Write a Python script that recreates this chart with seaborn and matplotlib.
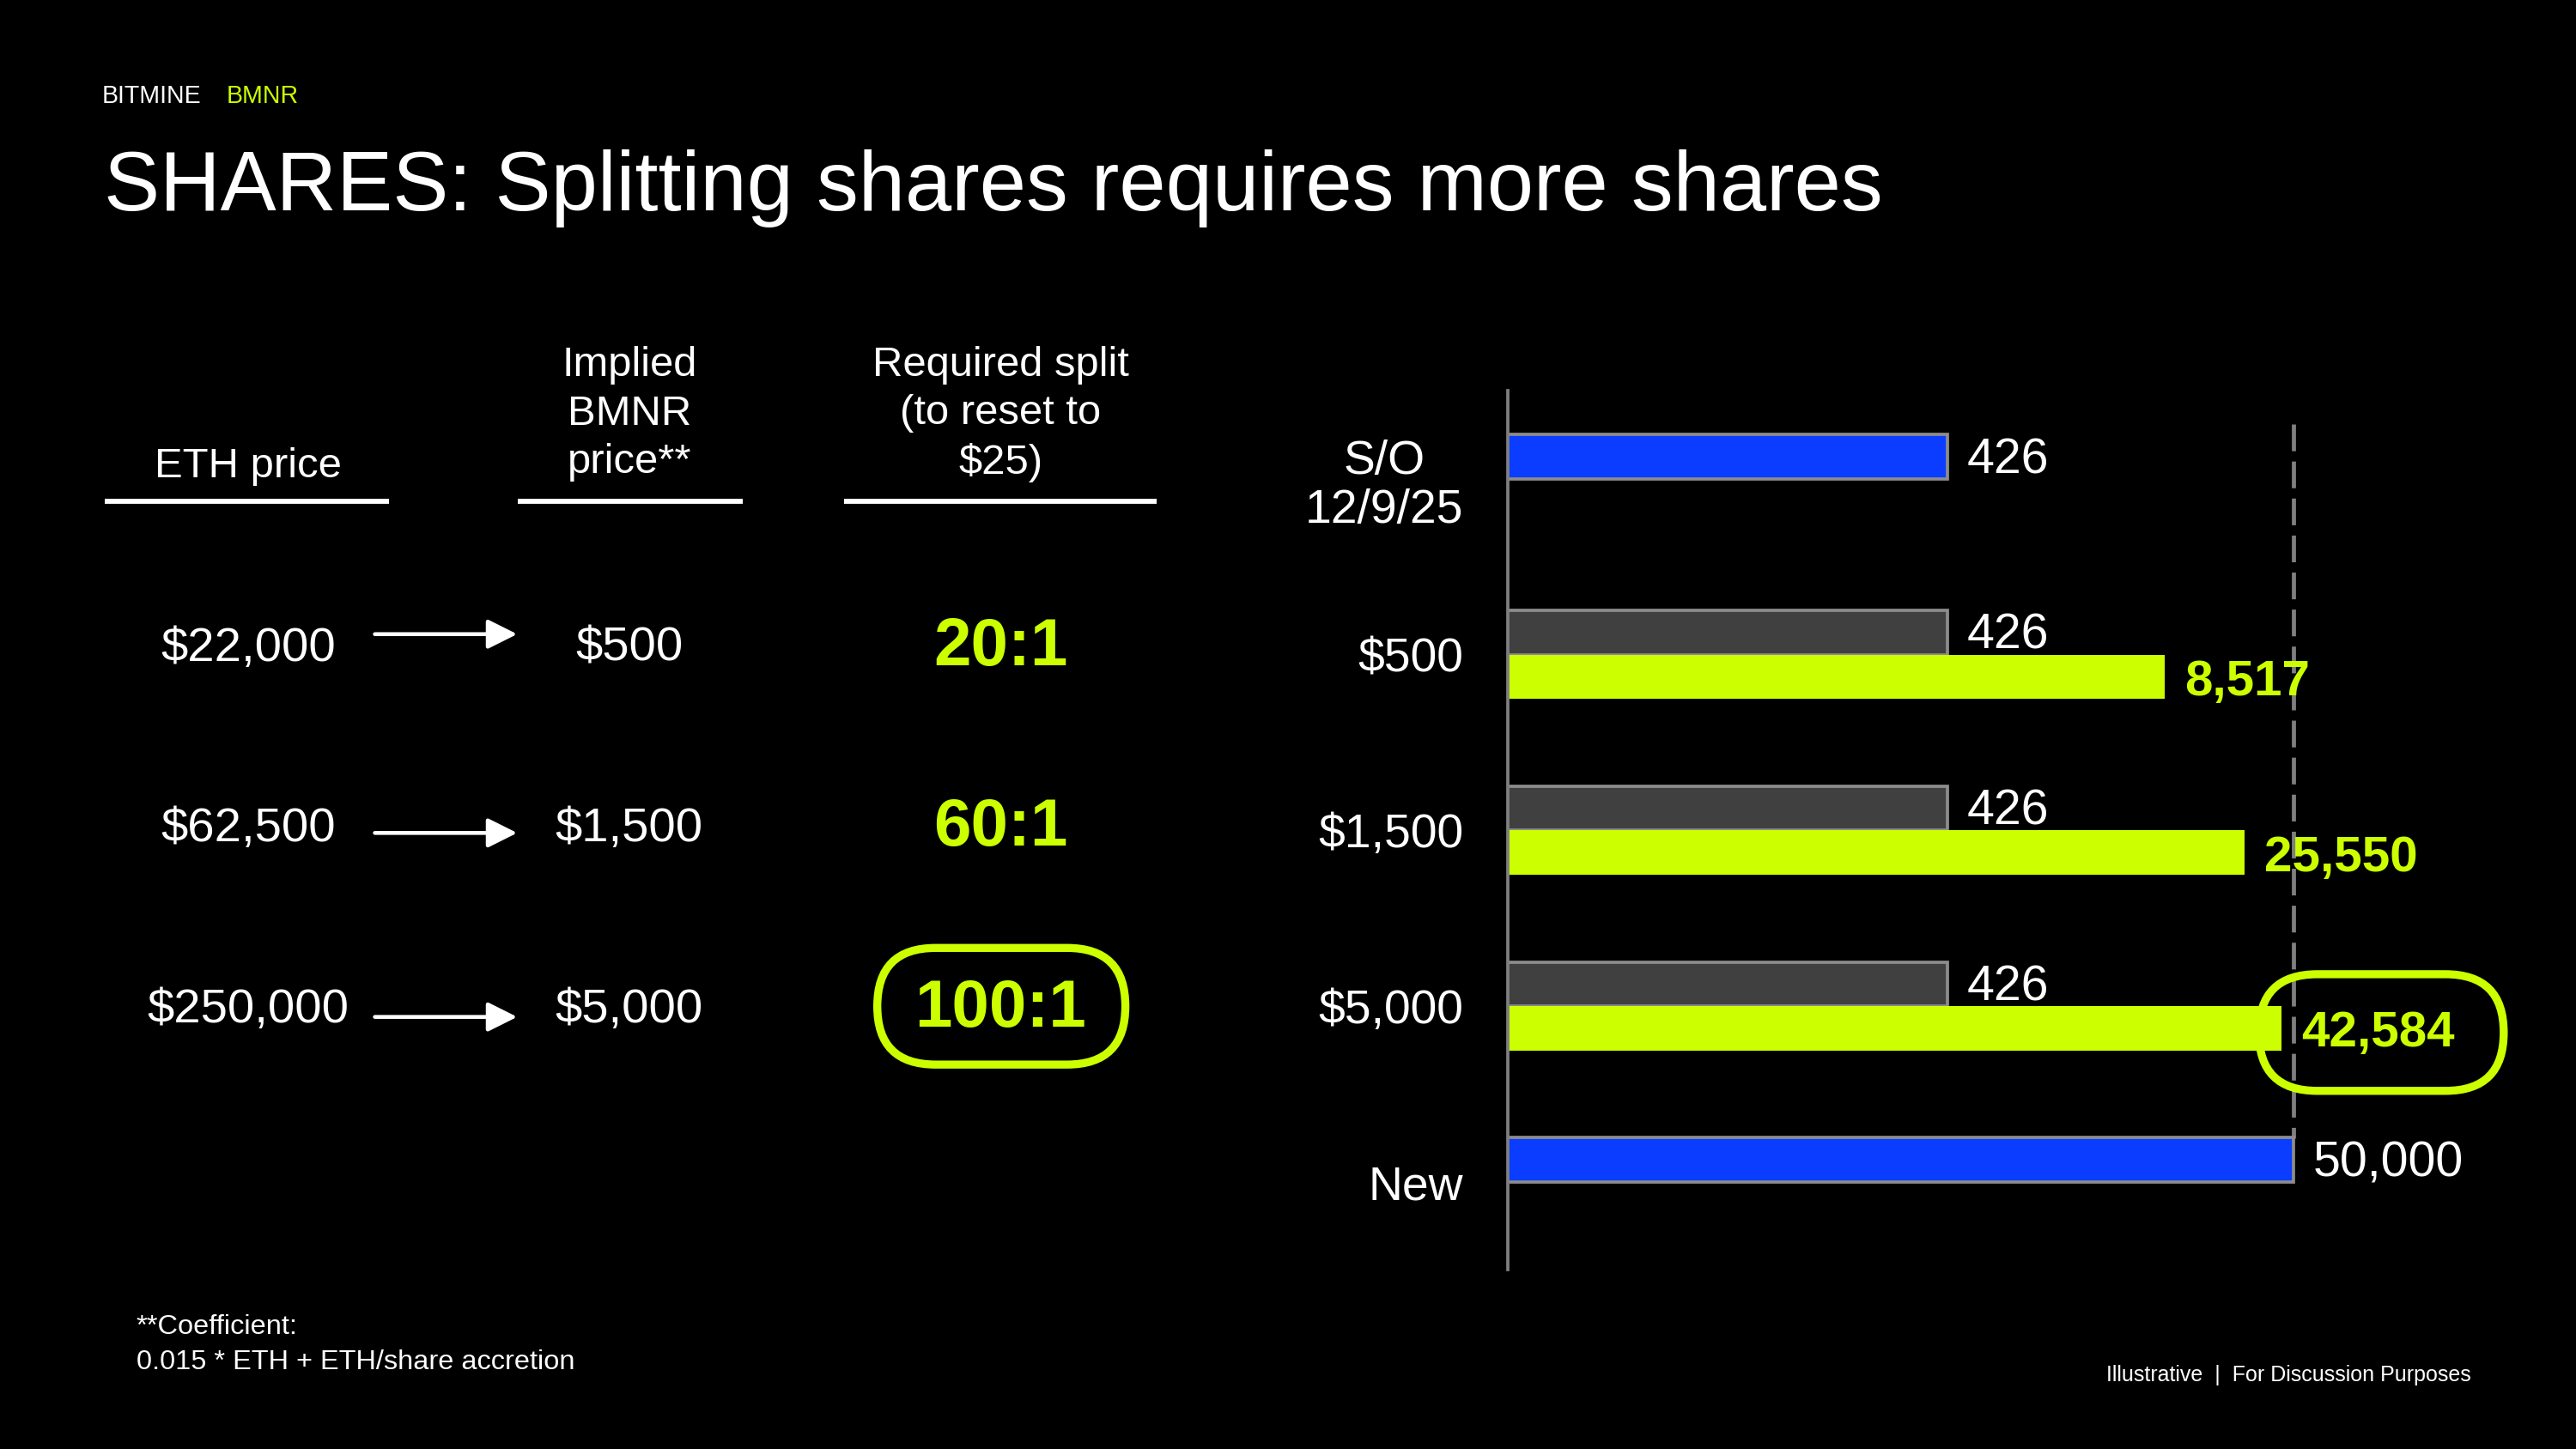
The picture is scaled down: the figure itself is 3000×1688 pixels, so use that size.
import numpy as np
import pandas as pd
import matplotlib.pyplot as plt
import seaborn as sns
from matplotlib.patches import FancyBboxPatch, FancyArrowPatch

# data
eth_prices = ['$22,000', '$62,500', '$250,000']
implied_prices = ['$500', '$1,500', '$5,000']
required_splits = ['20:1', '60:1', '100:1']

categories = ['S/O\n12/9/25', '$500', '$1,500', '$5,000', 'New']
current_shares = [426, 426, 426, 426, 50000]
split_shares = [np.nan, 8517, 25550, 42584, np.nan]
target_shares = 50000

BLUE = '#0A3DFF'
LIME = '#CCFF00'
DARK = '#404040'
EDGE = '#8c8c8c'
WHITE = '#ffffff'

sns.set_theme(style='dark', rc={'figure.facecolor': 'black', 'axes.facecolor': 'black',
                                'savefig.facecolor': 'black', 'text.color': 'white'})
plt.rcParams['font.family'] = ['Liberation Sans', 'DejaVu Sans']

rows = []
for cat, cur, spl in zip(categories, current_shares, split_shares):
    rows.append({'cat': cat, 'kind': 'current', 'shares': cur})
    if not np.isnan(spl):
        rows.append({'cat': cat, 'kind': 'split', 'shares': spl})
df = pd.DataFrame(rows)

fig = plt.figure(figsize=(20, 1688 / 150), dpi=150)

W, H = 1568, 882
# bar chart axes
ax = fig.add_axes([918 / W, 1 - 773 / H, (1528.2 - 918) / W, 535 / H])
sns.barplot(data=df, y='cat', x='shares', hue='kind', order=categories,
            hue_order=['current', 'split'], dodge=True, width=0.505,
            orient='h', ax=ax, legend=False, saturation=1)
ax.set_xscale('log')
ax.set_xlim(1, 1e6)
ax.set_ylim(4.5, -0.5)
ax.set_facecolor('black')
ax.grid(False)
ax.set_xlabel('')
ax.set_ylabel('')
ax.set_xticks([])
for s in ['top', 'right', 'bottom']:
    ax.spines[s].set_visible(False)
ax.spines['left'].set_color('#7f7f7f')
ax.spines['left'].set_linewidth(1.8)
ax.tick_params(axis='y', length=0, pad=25, labelsize=26.5, labelcolor='white')
for lab in ax.get_yticklabels():
    lab.set_multialignment('center')
    lab.set_linespacing(1.12)

for kind, cont in zip(['current', 'split'], ax.containers):
    for bar in cont:
        w = bar.get_width()
        if not np.isfinite(w) or w <= 0:
            continue
        yc = bar.get_y() + bar.get_height() / 2
        idx = int(round(yc))
        if kind == 'current':
            fc = BLUE if idx in (0, len(categories) - 1) else DARK
            bar.set_facecolor(fc)
            bar.set_edgecolor(EDGE)
            bar.set_linewidth(1.8)
            ax.annotate(f'{w:,.0f}', xy=(w, yc), xytext=(11, -2), textcoords='offset points',
                        va='center', ha='left', fontsize=27.5, color=WHITE)
        else:
            bar.set_facecolor(LIME)
            bar.set_edgecolor('none')
            ax.annotate(f'{w:,.0f}', xy=(w, yc), xytext=(11, -3), textcoords='offset points',
                        va='center', ha='left', fontsize=28, color=LIME, fontweight='bold')

ax.vlines(target_shares, -0.31, 3.75, colors='#7f7f7f', linewidth=2.3,
          linestyles=(0, (6.5, 2.5)), zorder=0.5)

# overlay in reference pixel coordinates
ov = fig.add_axes([0, 0, 1, 1], zorder=5)
ov.set_xlim(0, W)
ov.set_ylim(H, 0)
ov.axis('off')
ov.patch.set_alpha(0)

ov.text(62, 62.5, 'BITMINE', fontsize=13.7, color=WHITE, va='baseline', ha='left')
ov.text(138, 62.5, 'BMNR', fontsize=13.7, color=LIME, va='baseline', ha='left')
ov.text(63, 128, 'SHARES: Splitting shares requires more shares', fontsize=46.8,
        color=WHITE, va='baseline', ha='left')

# table headers
ov.text(151, 284, 'ETH price', fontsize=23.5, ha='center', va='center')
ov.text(383, 252, 'Implied\nBMNR\nprice**', fontsize=23.5, ha='center', va='center', linespacing=1.33)
ov.text(609, 252, 'Required split\n(to reset to\n$25)', fontsize=23.5, ha='center', va='center', linespacing=1.33)
for x0, x1 in [(64, 237), (315, 452), (514, 704)]:
    ov.plot([x0, x1], [305, 305], color=WHITE, lw=2.8, solid_capstyle='butt')

row_y = [395, 505, 615]
arrow_y = [386, 507, 619]
for e, p, s, y, ay in zip(eth_prices, implied_prices, required_splits, row_y, arrow_y):
    ov.text(151, y, e, fontsize=27, ha='center', va='center')
    ov.text(383, y, p, fontsize=27, ha='center', va='center')
    ov.text(609, y - 1, s, fontsize=37.5, ha='center', va='center', color=LIME, fontweight='bold')
    ov.add_patch(FancyArrowPatch((226, ay), (317, ay), arrowstyle='-|>,head_length=0.7,head_width=0.35',
                                 mutation_scale=20, color=WHITE, lw=2.2))

# highlight pills
for x0, y0, w, h in [(534, 577, 151, 71), (1375, 593, 149, 71)]:
    ov.add_patch(FancyBboxPatch((x0, y0), w, h, boxstyle=f'round,pad=0,rounding_size={h / 2}',
                                fill=False, edgecolor=LIME, lw=4.5))

ov.text(83, 808, '**Coefficient:', fontsize=15.6, ha='left', va='center')
ov.text(83, 829, '0.015 * ETH + ETH/share accretion', fontsize=15.6, ha='left', va='center')
ov.text(1504, 837, 'Illustrative  |  For Discussion Purposes', fontsize=12, ha='right', va='center')

fig.savefig('out.png', dpi=150)
